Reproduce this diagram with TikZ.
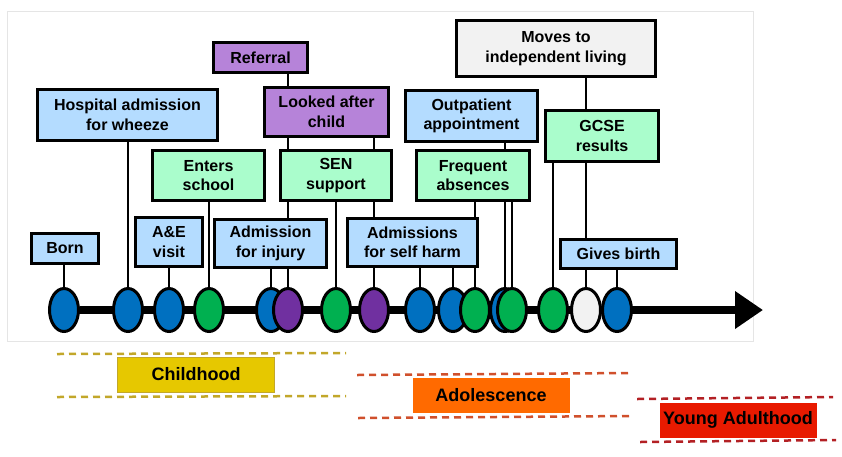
\documentclass[tikz,border=0pt]{standalone}
\usepackage{fontspec}
\setmainfont{Liberation Sans}
\usepackage{xcolor}
\usetikzlibrary{arrows.meta,backgrounds,shapes.geometric}
\definecolor{evblue}{HTML}{B4DCFF}
\definecolor{evgreen}{HTML}{AAFDCC}
\definecolor{evpurple}{HTML}{B683D9}
\definecolor{evgray}{HTML}{F2F2F2}
\definecolor{dotblue}{HTML}{0070C0}
\definecolor{dotgreen}{HTML}{00B050}
\definecolor{dotpurple}{HTML}{7030A0}
\definecolor{childfill}{HTML}{E6C800}
\definecolor{childline}{HTML}{C2A72A}
\definecolor{adolfill}{HTML}{FF6A00}
\definecolor{adolline}{HTML}{D0502C}
\definecolor{youngfill}{HTML}{E81A00}
\definecolor{youngline}{HTML}{B32024}

\begin{document}
\begin{tikzpicture}[x=1pt,y=-1pt,
    box/.style={draw, line width=3pt, align=center, inner sep=0pt, font=\bfseries\fontsize{16}{19.5}\selectfont},
    dot/.style={ellipse, draw, line width=3pt, minimum width=29pt, minimum height=43pt, inner sep=0pt},
    link/.style={line width=2pt},
    stage/.style={inner sep=0pt, minimum width=157pt, minimum height=35pt, font=\bfseries\fontsize{18}{20}\selectfont},
    band/.style={line width=2.5pt, dash pattern=on 7pt off 5pt}]
    \useasboundingbox (0,0) rectangle (842,456);

    % events on the line
    \coordinate (tip) at (763,310);
    \node (e1) [dot, fill=dotblue] at (64,310) {};
    \node (e2) [dot, fill=dotblue] at (128,310) {};
    \node (e3) [dot, fill=dotblue] at (169,310) {};
    \node (e4) [dot, fill=dotgreen] at (209,310) {};
    \node (e5) [dot, fill=dotblue] at (271,310) {};
    \node (e6) [dot, fill=dotpurple] at (288,310) {};
    \node (e7) [dot, fill=dotgreen] at (336,310) {};
    \node (e8) [dot, fill=dotpurple] at (374,310) {};
    \node (e9) [dot, fill=dotblue] at (420,310) {};
    \node (e10) [dot, fill=dotblue] at (453,310) {};
    \node (e11) [dot, fill=dotgreen] at (475,310) {};
    \node (e12) [dot, fill=dotblue] at (505,310) {};
    \node (e13) [dot, fill=dotgreen] at (512,310) {};
    \node (e14) [dot, fill=dotgreen] at (553,310) {};
    \node (e15) [dot, fill=evgray] at (586,310) {};
    \node (e16) [dot, fill=dotblue] at (617,310) {};

    % labels
    \node (born) [box, fill=evblue, minimum width=67pt, minimum height=30pt] at (65,248) {Born};
    \node (wheeze) [box, fill=evblue, minimum width=180pt, minimum height=51pt] at (127.5,115) {Hospital admission\\for wheeze};
    \node (referral) [box, fill=evpurple, minimum width=94pt, minimum height=30pt] at (260.5,57.5) {Referral};
    \node (lac) [box, fill=evpurple, minimum width=124pt, minimum height=49pt] at (326.5,112) {Looked after\\child};
    \node (school) [box, fill=evgreen, minimum width=112pt, minimum height=50pt] at (208.5,175.5) {Enters\\school};
    \node (sen) [box, fill=evgreen, minimum width=111pt, minimum height=50pt] at (336,175.5) {SEN\\support};
    \node (ae) [box, fill=evblue, minimum width=67pt, minimum height=49pt] at (169,242) {A\&E\\visit};
    \node (injury) [box, fill=evblue, minimum width=112pt, minimum height=48pt] at (270.5,243.5) {Admission\\for injury};
    \node (selfharm) [box, fill=evblue, minimum width=130pt, minimum height=48pt] at (412.5,242.5) {Admissions\\for self harm};
    \node (absent) [box, fill=evgreen, minimum width=113pt, minimum height=50pt] at (473,175.5) {Frequent\\absences};
    \node (moves) [box, fill=evgray, minimum width=199pt, minimum height=56pt] at (556,48.5) {Moves to\\independent living};
    \node (outpat) [box, fill=evblue, minimum width=132pt, minimum height=51pt] at (471.5,116) {Outpatient\\appointment};
    \node (gcse) [box, fill=evgreen, minimum width=113pt, minimum height=51pt] at (602,136) {GCSE\\results};
    \node (birth) [box, fill=evblue, minimum width=116pt, minimum height=29pt] at (618.5,254) {Gives birth};

    \begin{pgfonlayer}{background}
        \draw [gray!20, line width=1pt] (7,11) rectangle (753,341);
        \draw [line width=8pt, -{Triangle[length=28pt,width=36pt]}] (e1) -- (tip);
        \draw [link] (e1) -- (e1 |- born);
        \draw [link] (e2) -- (e2 |- wheeze);
        \draw [link] (e3) -- (e3 |- ae);
        \draw [link] (e4) -- (e4 |- school);
        \draw [link] (e5) -- (e5 |- injury);
        \draw [link] (e6) -- (e6 |- referral);
        \draw [link] (e7) -- (e7 |- sen);
        \draw [link] (e8) -- (e8 |- lac);
        \draw [link] (e9) -- (e9 |- selfharm);
        \draw [link] (e10) -- (e10 |- selfharm);
        \draw [link] (e11) -- (e11 |- absent);
        \draw [link] (e12) -- (e12 |- outpat);
        \draw [link] (e13) -- (e13 |- absent);
        \draw [link] (e14) -- (e14 |- gcse);
        \draw [link] (e15) -- (e15 |- moves);
        \draw [link] (e16) -- (e16 |- birth);
    \end{pgfonlayer}

    % life stages
    \draw [band, childline] (57,354) -- (346,353);
    \draw [band, childline] (57,397) -- (346,396);
    \node (child) [stage, fill=childfill, draw=childline, line width=0.5pt] at (196,374.5) {Childhood};
    \draw [band, adolline] (357,375) -- (631,373);
    \draw [band, adolline] (358,418) -- (632,416);
    \node (adol) [stage, fill=adolfill] at (491,395.5) {Adolescence};
    \draw [band, youngline] (637,399) -- (833,397);
    \draw [band, youngline] (640,442) -- (836,440);
    \node (young) [stage, fill=youngfill] at (738,420) {Young Adulthood};
\end{tikzpicture}
\end{document}
